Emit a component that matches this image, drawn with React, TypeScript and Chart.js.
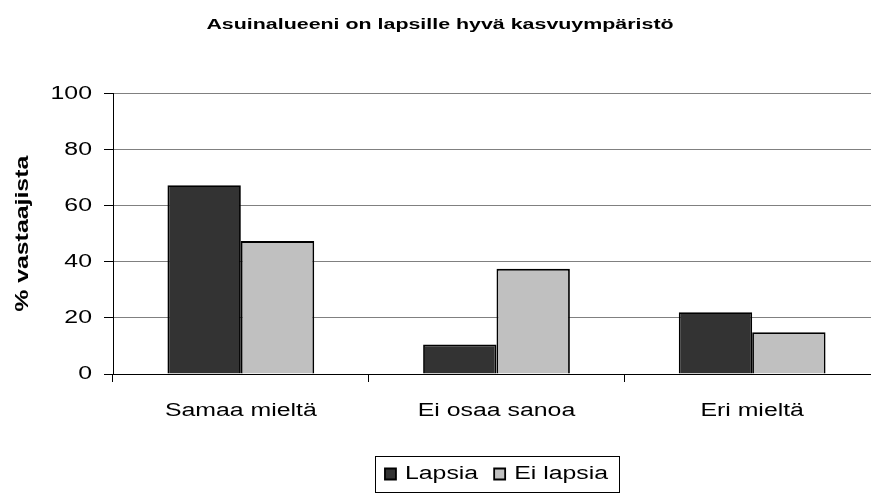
import React, { useEffect, useRef } from "react";
import { Chart, registerables } from "chart.js";

Chart.register(...registerables);

const TITLE = "Asuinalueeni on lapsille hyvä kasvuympäristö";
const Y_TITLE = "% vastaajista";
const categories = ["Samaa mieltä", "Ei osaa sanoa", "Eri mieltä"];
const seriesNames = ["Lapsia", "Ei lapsia"];
const lapsia = [67.3, 10.5, 22.0];
const eiLapsia = [47.4, 37.5, 14.9];
const yTicks = [0, 20, 40, 60, 80, 100];

const FONT = "'Liberation Sans', Arial, sans-serif";
const SX = 1.38; // horizontal text stretch

const legendBorder = {
  id: "legendBorder",
  afterDraw(chart: any) {
    const lg = chart.legend;
    if (!lg || !lg.legendHitBoxes || !lg.legendHitBoxes.length) return;
    const hb = lg.legendHitBoxes;
    let l = Infinity, r = -Infinity, t = Infinity, b = -Infinity;
    for (const h of hb) {
      l = Math.min(l, h.left);
      r = Math.max(r, h.left + h.width);
      t = Math.min(t, h.top);
      b = Math.max(b, h.top + h.height);
    }
    const ctx = chart.ctx;
    ctx.save();
    ctx.strokeStyle = "#000";
    ctx.lineWidth = 1;
    ctx.strokeRect(Math.round(l - 10) + 0.5, Math.round(t - 9) + 0.5, Math.round(r - l + 21), Math.round(b - t + 18));
    ctx.restore();
  },
};

export default function App() {
  const ref = useRef<HTMLCanvasElement | null>(null);
  useEffect(() => {
    const canvas = ref.current!;
    const ctx = canvas.getContext("2d")! as any;
    const origFill = ctx.fillText.bind(ctx);
    const origMeasure = ctx.measureText.bind(ctx);
    ctx.fillText = (text: string, x: number, y: number, maxWidth?: number) => {
      ctx.save();
      ctx.translate(x, y);
      ctx.scale(SX, 1);
      if (typeof maxWidth === "number" && isFinite(maxWidth)) origFill(text, 0, 0, maxWidth / SX);
      else origFill(text, 0, 0);
      ctx.restore();
    };
    ctx.measureText = (text: string) => {
      const m = origMeasure(text);
      return {
        width: m.width * SX,
        actualBoundingBoxLeft: m.actualBoundingBoxLeft * SX,
        actualBoundingBoxRight: m.actualBoundingBoxRight * SX,
        actualBoundingBoxAscent: m.actualBoundingBoxAscent,
        actualBoundingBoxDescent: m.actualBoundingBoxDescent,
        fontBoundingBoxAscent: m.fontBoundingBoxAscent,
        fontBoundingBoxDescent: m.fontBoundingBoxDescent,
      };
    };

    const chart = new Chart(canvas, {
      type: "bar",
      data: {
        labels: categories,
        datasets: [
          {
            label: seriesNames[0],
            data: lapsia,
            backgroundColor: "#333333",
            borderColor: "#000000",
            borderWidth: 1.8,
          },
          {
            label: seriesNames[1],
            data: eiLapsia,
            backgroundColor: "#C0C0C0",
            borderColor: "#000000",
            borderWidth: 1.8,
          },
        ],
      },
      plugins: [legendBorder],
      options: {
        animation: false,
        responsive: false,
        devicePixelRatio: 1,
        layout: { padding: { left: 0, right: 0, top: 0, bottom: 4 } },
        datasets: { bar: { categoryPercentage: 0.574, barPercentage: 1 } },
        plugins: {
          tooltip: { enabled: false },
          title: {
            display: true,
            text: TITLE,
            fullSize: true,
            color: "#000",
            font: { family: FONT, size: 15.5, weight: "bold" },
            padding: { top: 15, bottom: 60 },
          },
          legend: {
            display: true,
            position: "bottom",
            fullSize: false,
            labels: {
              boxWidth: 11,
              boxHeight: 11,
              padding: 16,
              color: "#000",
              font: { family: FONT, size: 18 },
            },
          },
        },
        scales: {
          x: {
            grid: {
              offset: true,
              drawOnChartArea: false,
              drawTicks: true,
              tickLength: 8,
              tickColor: "#000",
            },
            border: { display: true, color: "#000", width: 1 },
            ticks: { color: "#000", font: { family: FONT, size: 18 }, padding: 18, maxRotation: 0, autoSkip: false },
            afterFit: (s: any) => {
              s.height = 75;
            },
          },
          y: {
            min: 0,
            max: 100,
            afterBuildTicks: (s: any) => {
              s.ticks = yTicks.map((v) => ({ value: v }));
            },
            grid: {
              color: "#808080",
              lineWidth: 1,
              drawTicks: true,
              tickLength: 9,
              tickColor: "#000",
            },
            border: { display: true, color: "#000", width: 1 },
            ticks: { color: "#000", font: { family: FONT, size: 18 }, padding: 12 },
            title: {
              display: true,
              text: Y_TITLE,
              color: "#000",
              font: { family: FONT, size: 18, weight: "bold" },
              padding: { top: 12, bottom: 0 },
            },
            afterFit: (s: any) => {
              s.width = 113;
            },
          },
        },
      },
    } as any);
    return () => chart.destroy();
  }, []);
  return (
    <div style={{ position: "absolute", left: 0, top: 0, width: 871, height: 497, overflow: "hidden", background: "#fff" }}>
      <canvas ref={ref} width={880} height={497} style={{ display: "block" }} />
    </div>
  );
}
